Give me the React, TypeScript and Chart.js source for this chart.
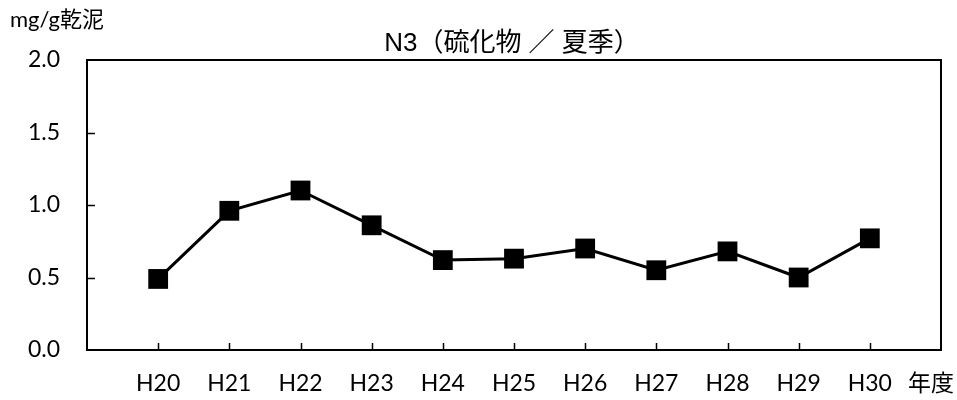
import React, { useEffect, useRef } from "react";
import { Chart, registerables } from "chart.js";

Chart.register(...registerables);

const categories = ["H20", "H21", "H22", "H23", "H24", "H25", "H26", "H27", "H28", "H29", "H30"];
const values = [0.49, 0.96, 1.1, 0.86, 0.62, 0.63, 0.7, 0.55, 0.68, 0.5, 0.77];
const yTicks = [0, 0.5, 1.0, 1.5, 2.0];
const titleText = "N3（硫化物 ／ 夏季）";
const yUnit = "mg/g乾泥";
const xUnit = "年度";

const LABEL_FONT = "Lato, 'Noto Sans CJK JP', sans-serif";

const decorPlugin = {
  id: "decor",
  afterDraw(chart: any) {
    const { ctx, chartArea, scales } = chart;
    const x = scales.x;
    const y = scales.y;
    ctx.save();
    ctx.strokeStyle = "#000";
    ctx.lineWidth = 2;
    ctx.strokeRect(chartArea.left, chartArea.top, chartArea.right - chartArea.left, chartArea.bottom - chartArea.top);
    ctx.beginPath();
    categories.forEach((_, i) => {
      const px = Math.round(x.getPixelForValue(i)) + 0.5;
      ctx.moveTo(px, chartArea.bottom);
      ctx.lineTo(px, chartArea.bottom - 7);
    });
    yTicks.forEach((v) => {
      if (v === 0 || v === 2) return;
      const py = Math.round(y.getPixelForValue(v)) + 0.5;
      ctx.moveTo(chartArea.left, py);
      ctx.lineTo(chartArea.left + 8, py);
    });
    ctx.lineWidth = 1.5;
    ctx.stroke();

    ctx.fillStyle = "#000";
    ctx.textBaseline = "middle";
    ctx.textAlign = "center";
    ctx.font = "26px 'Liberation Sans', 'Noto Sans CJK JP', sans-serif";
    ctx.fillText(titleText, 512, 44);

    ctx.textAlign = "left";
    ctx.font = "22px " + LABEL_FONT;
    ctx.fillText(yUnit, 10, 20);

    ctx.font = "23px " + LABEL_FONT;
    ctx.textAlign = "center";
    ctx.fillText(xUnit, 931, 384);
    ctx.restore();
  },
};

export default function App() {
  const ref = useRef<HTMLCanvasElement | null>(null);
  useEffect(() => {
    if (!ref.current) return;
    const chart = new Chart(ref.current, {
      type: "line",
      data: {
        labels: categories,
        datasets: [
          {
            data: values.map((v, i) => ({ x: i, y: v })),
            borderColor: "#000",
            backgroundColor: "#000",
            borderWidth: 3,
            pointStyle: "rect",
            pointRadius: 14,
            pointBorderWidth: 0,
            pointBackgroundColor: "#000",
            tension: 0,
            clip: false as any,
          },
        ],
      },
      options: {
        animation: false,
        responsive: false,
        maintainAspectRatio: false,
        layout: { padding: { top: 60, right: 16, left: 0, bottom: 0 } },
        plugins: {
          legend: { display: false },
          title: { display: false },
          tooltip: { enabled: false },
        },
        scales: {
          x: {
            type: "linear",
            min: -1,
            max: 11,
            grid: { display: false, drawTicks: false },
            border: { display: false },
            afterFit: (s: any) => {
              s.height = 50;
            },
            afterBuildTicks: (s: any) => {
              s.ticks = categories.map((_, i) => ({ value: i }));
            },
            ticks: {
              autoSkip: false,
              maxRotation: 0,
              padding: 20,
              color: "#000",
              font: { family: LABEL_FONT, size: 23 },
              callback: (v: any) => categories[v as number] ?? "",
            },
          },
          y: {
            min: 0,
            max: 2,
            grid: { display: false, drawTicks: false },
            border: { display: false },
            afterFit: (s: any) => {
              s.width = 87;
            },
            afterBuildTicks: (s: any) => {
              s.ticks = yTicks.map((v) => ({ value: v }));
            },
            ticks: {
              padding: 27,
              color: "#000",
              font: { family: LABEL_FONT, size: 23 },
              callback: (v: any) => Number(v).toFixed(1),
            },
          },
        },
      },
      plugins: [decorPlugin],
    });
    return () => chart.destroy();
  }, []);
  return (
    <div style={{ position: "fixed", left: 0, top: 0, width: 957, height: 400, background: "#fff" }}>
      <canvas ref={ref} width={957} height={400} style={{ width: 957, height: 400, display: "block" }} />
    </div>
  );
}
